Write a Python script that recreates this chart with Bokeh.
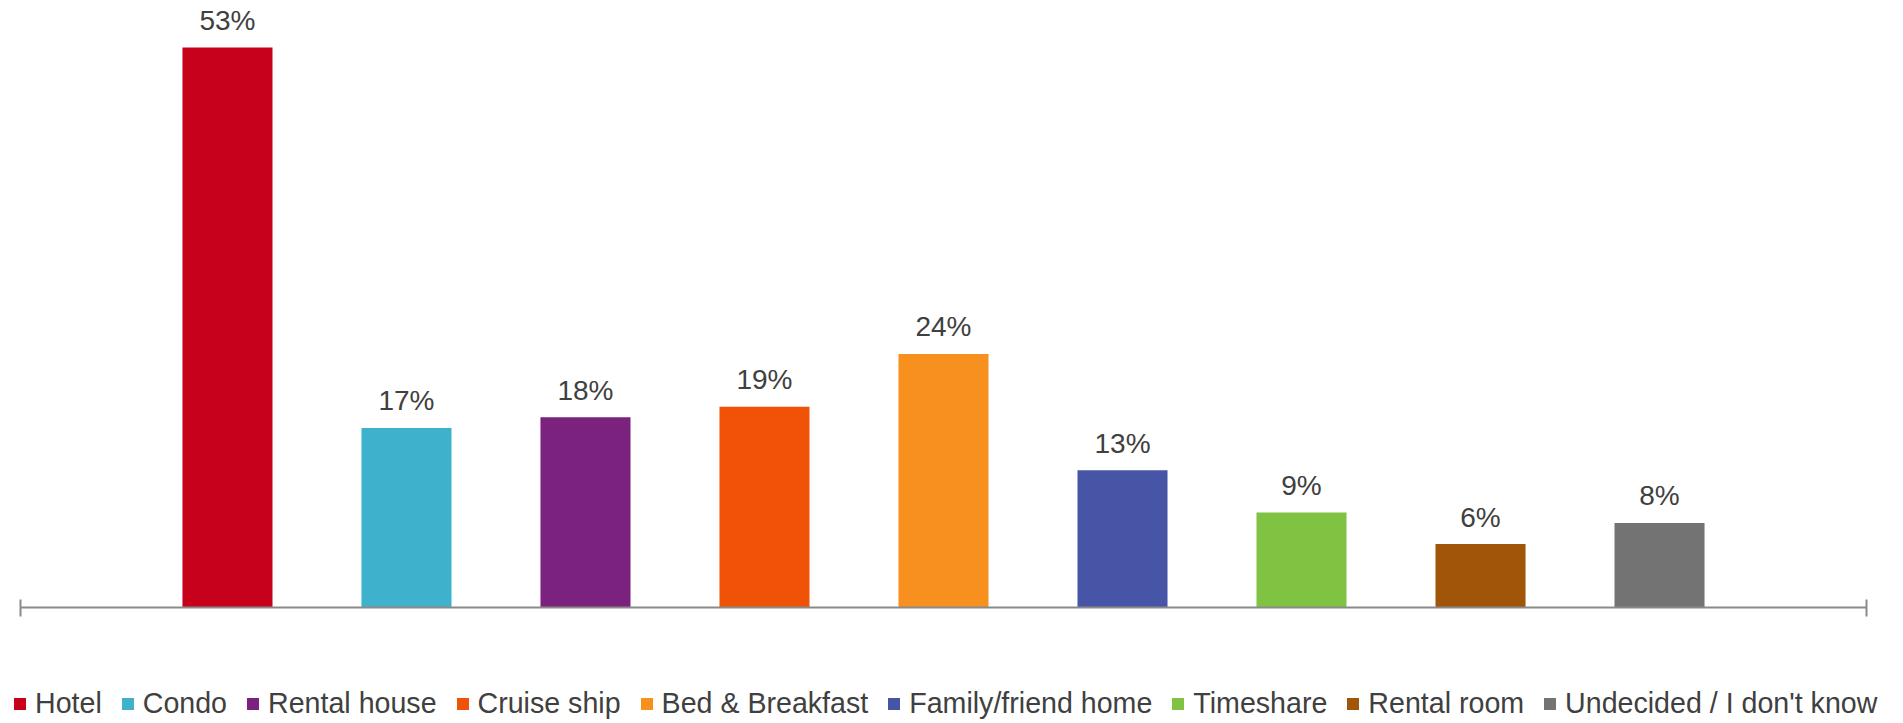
from bokeh.plotting import figure
from bokeh.layouts import column
from bokeh.models import ColumnDataSource, Range1d, FixedTicker, Legend, LegendItem
from bokeh.core.properties import value
from bokeh.embed import file_html
from bokeh.resources import INLINE

categories = ["Hotel", "Condo", "Rental house", "Cruise ship", "Bed & Breakfast",
              "Family/friend home", "Timeshare", "Rental room", "Undecided / I don't know"]
values = [53, 17, 18, 19, 24, 13, 9, 6, 8]
labels = [f"{v}%" for v in values]
colors = ["#C7001B", "#3EB1CD", "#7B217E", "#F05308", "#F7901E",
          "#4655A5", "#80C342", "#A05509", "#737373"]

font = "Liberation Sans"
x_pos = list(range(len(categories)))
# visible axis extent (in category units) and full frame extent
ax0, ax1 = -1.156, len(categories) - 1 + 1.156
fr0, fr1 = -1.268, len(categories) - 1 + 1.363

# main chart
p = figure(width=1903, height=630, output_backend="svg", toolbar_location=None,
           x_range=Range1d(fr0, fr1), y_range=Range1d(0, 57.45),
           y_axis_location=None, min_border_left=0, min_border_right=0,
           min_border_top=0, min_border_bottom=23)
p.outline_line_color = None
p.grid.visible = False

# legend strip
q = figure(width=1903, height=93, output_backend="svg", toolbar_location=None,
           x_range=Range1d(fr0, fr1), y_range=Range1d(0, 57.45),
           x_axis_location=None, y_axis_location=None,
           min_border_left=0, min_border_right=0, min_border_top=0, min_border_bottom=0)
q.outline_line_color = None
q.grid.visible = False

items = []
for i, (c, v, col) in enumerate(zip(categories, values, colors)):
    src = ColumnDataSource(dict(x=[x_pos[i]], top=[v], lab=[labels[i]]))
    p.vbar(x="x", top="top", width=0.503, bottom=0, source=src,
           fill_color=col, line_color=None)
    p.text(x="x", y="top", text="lab", source=src, text_align="center",
           text_baseline="alphabetic", y_offset=-27, text_font_size="28px",
           text_color="#404040", text_font=value(font))
    r = q.vbar(x="x", top="top", width=0.503, bottom=0, source=src,
               fill_color=col, line_color=None, visible=False)
    items.append(LegendItem(label=c, renderers=[r], index=0))

ax = p.xaxis[0]
ax.bounds = (ax0, ax1)
ax.ticker = FixedTicker(ticks=[ax0, ax1])
ax.axis_line_color = "#8A8A8A"
ax.axis_line_width = 2
ax.major_tick_line_color = "#8A8A8A"
ax.major_tick_line_width = 2
ax.major_tick_in = 8
ax.major_tick_out = 9
ax.minor_tick_line_color = None
ax.major_label_text_font_size = "1px"
ax.major_label_text_alpha = 0
ax.major_label_standoff = 0
ax.axis_label_standoff = 0

legend = Legend(items=items, orientation="horizontal", location=(12, 3),
                label_text_font_size="28.6px", label_text_color="#404040",
                label_text_font=font, glyph_width=15, glyph_height=15,
                label_standoff=8, spacing=18, padding=0, margin=0,
                border_line_alpha=0, background_fill_alpha=0,
                inactive_fill_alpha=0)
q.add_layout(legend, "center")

layout = column(p, q, spacing=0)
open("out.html", "w").write(file_html(layout, INLINE))
